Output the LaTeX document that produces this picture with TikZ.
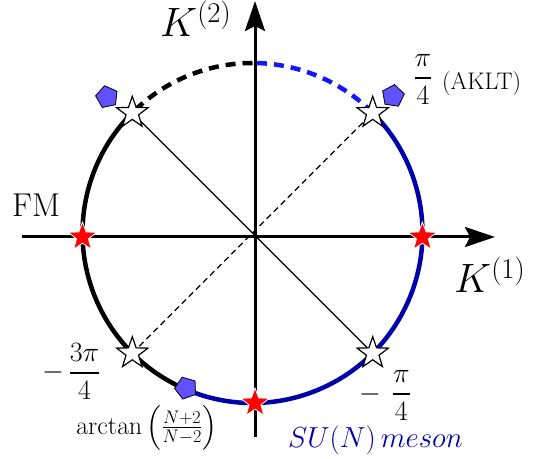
\RequirePackage{fix-cm}
\documentclass[tikz,border=0pt]{standalone}
\usepackage{amsmath}
\usetikzlibrary{arrows.meta,shapes.geometric,calc}
\definecolor{navyb}{RGB}{0,0,170}
\definecolor{dashb}{RGB}{20,20,255}
\definecolor{pent}{RGB}{96,80,255}
\begin{document}
\begin{tikzpicture}[x=1pt,y=1pt,
  thickarc/.style={line width=4.5pt},
  thickdash/.style={line width=4.5pt,dash pattern=on 10pt off 7pt},
  redstar/.style={star,star points=5,star point ratio=2.4,minimum size=30pt,inner sep=0pt,fill=red,draw=white,line width=0.8pt},
  whitestar/.style={star,star points=5,star point ratio=2.5,minimum size=33pt,inner sep=0pt,fill=white,draw=black,line width=1.2pt},
  pentmark/.style={regular polygon,regular polygon sides=5,minimum size=23pt,inner sep=0pt,fill=pent,draw=black,line width=0.8pt},
  axisline/.style={line width=3pt,-{Stealth[length=30pt,width=20pt,inset=5pt]}},
  lbl/.style={inner sep=0pt}]
\useasboundingbox (0,0) rectangle (554,458);
% geometry
\coordinate (C) at (252.5,225);
\coordinate (p45) at ($(C)+(45:170pt)$);
\coordinate (p90) at ($(C)+(90:170pt)$);
\coordinate (p135) at ($(C)+(135:170pt)$);
\coordinate (p225) at ($(C)+(225:170pt)$);
\coordinate (p315) at ($(C)+(315:170pt)$);
\coordinate (pm) at ($(C)+(246.8:170pt)$);
\coordinate (xl) at (22,221);
\coordinate (xr) at (495,221);
\coordinate (yb) at (255,21);
\coordinate (yt) at (255,457);
% arcs
\draw[thickarc,black] (p135) arc[start angle=135,end angle=246.8,radius=170pt];
\draw[thickarc,navyb] (pm) arc[start angle=246.8,end angle=405,radius=170pt];
\draw[thickdash,dashb] (p45) arc[start angle=45,end angle=90,radius=170pt];
\draw[thickdash,black] (p90) arc[start angle=90,end angle=135,radius=170pt];
% diagonals
\draw[line width=1.3pt] (p135) -- (p315);
\draw[line width=1.3pt,dash pattern=on 6pt off 4pt] (p225) -- (p45);
% axes
\draw[axisline] (xl) -- (xr);
\draw[axisline] (yb) -- (yt);
% markers
\node[redstar] (sl) at (82.5,221) {};
\node[redstar] (sr) at (422.4,221) {};
\node[redstar] (sb) at (255,55) {};
\node[whitestar] (w45) at (p45) {};
\node[whitestar] (w135) at (p135) {};
\node[whitestar] (w225) at (p225) {};
\node[whitestar] (w315) at (p315) {};
\node[pentmark,rotate=12] (q1) at (107,361) {};
\node[pentmark,rotate=-8] (q2) at (393,362) {};
\node[pentmark,rotate=20] (q3) at (186,70) {};
% labels
\node[lbl,anchor=base west] (k2) at (160,421) {\fontsize{41}{48}\selectfont $K^{(2)}$};
\node[lbl,anchor=base west] (k1) at (454,165) {\fontsize{41}{48}\selectfont $K^{(1)}$};
\node[lbl,anchor=base west] (fm) at (12,241) {\fontsize{33}{38}\selectfont $\mathrm{FM}$};
\node[lbl,anchor=base] (pi4) at (423,373) {\fontsize{28}{34}\selectfont $\genfrac{}{}{2.5pt}{0}{\pi}{4}$};
\node[lbl,anchor=base west] (aklt) at (442,368) {\fontsize{24}{28}\selectfont $(\mathrm{AKLT})$};
\node[lbl,anchor=base west] (mpi4) at (359,57) {\fontsize{28}{34}\selectfont $-\mkern7mu\genfrac{}{}{2.5pt}{0}{\pi}{4}$};
\node[lbl,anchor=base west] (m3pi4) at (42,78) {\fontsize{28}{34}\selectfont $-\mkern3mu\genfrac{}{}{1.5pt}{0}{3\pi}{4}$};
\node[lbl,anchor=base west] (atan) at (76,24) {\fontsize{26}{30}\selectfont $\arctan\,\Bigl(\frac{N+2}{N-2}\Bigr)$};
\node[lbl,anchor=base west,text=navyb] (sun) at (288,11) {\fontsize{29}{34}\selectfont $SU(N)\,meson$};
\end{tikzpicture}
\end{document}
